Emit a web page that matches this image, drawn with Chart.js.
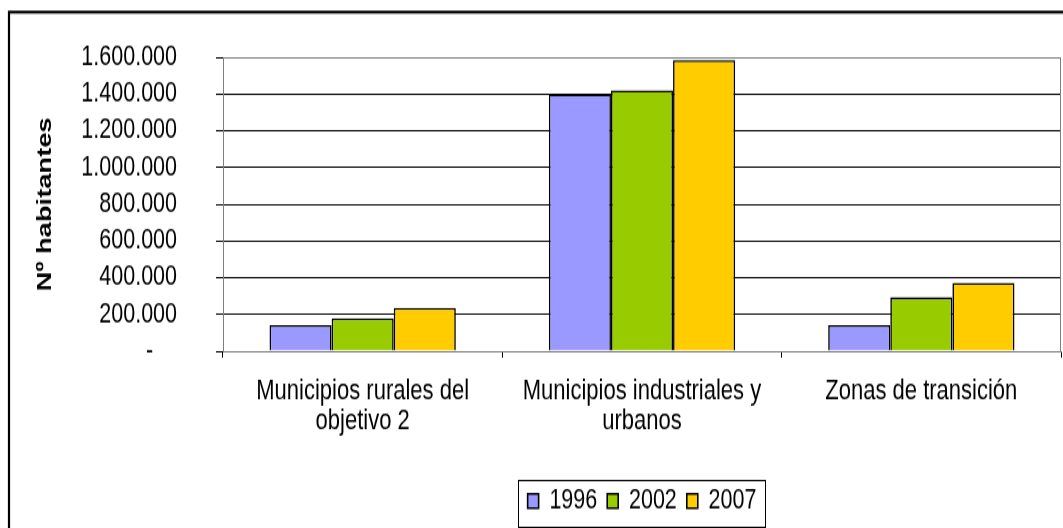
<!DOCTYPE html>
<html><head><meta charset="utf-8">
<script src="https://cdn.jsdelivr.net/npm/chart.js@4.4.1/dist/chart.umd.min.js"></script>
<style>
html,body{margin:0;padding:0;background:#fff;overflow:hidden;width:1063px;height:528px}
#wrap{position:absolute;left:0;top:0;width:1063px;height:406px;transform:scale(1,1.3005);transform-origin:0 0}
</style></head><body>
<div id="wrap"><canvas id="c" width="1063" height="406"></canvas></div>
<script>
const categories = [['Municipios rurales del', 'objetivo 2'], ['Municipios industriales y', 'urbanos'], 'Zonas de transición'];
const seriesNames = ['1996', '2002', '2007'];
const values1996 = [143000, 1399000, 143000];
const values2002 = [180000, 1420000, 294000];
const values2007 = [236000, 1584000, 373000];
const seriesColors = ['#9999FF', '#99CC00', '#FFCC00'];
const yTickValues = [0, 200000, 400000, 600000, 800000, 1000000, 1200000, 1400000, 1600000];
const yTickLabels = ['-    ', '200.000', '400.000', '600.000', '800.000', '1.000.000', '1.200.000', '1.400.000', '1.600.000'];
const yTitle = 'Nº habitantes';

const FF = "'Liberation Sans', Arial, sans-serif";
Chart.defaults.color = '#000';
Chart.defaults.font.family = FF;

const framePlugin = {
  id: 'frame',
  beforeDraw(chart) {
    const c = chart.ctx;
    c.save();
    c.fillStyle = '#fff';
    c.fillRect(0, 0, chart.width, chart.height);
    c.strokeStyle = '#000';
    c.lineWidth = 2.2;
    c.strokeRect(9, 9.3, 1200, 600);
    c.restore();
  },
  afterLayout(chart) {
    const lg = chart.legend;
    if (lg) { lg.left = chart.chartArea.left; lg.right = chart.chartArea.right; }
  },
  beforeDatasetsDraw(chart) {
    const a = chart.chartArea, c = chart.ctx;
    c.save();
    c.strokeStyle = '#808080';
    c.lineWidth = 1;
    c.beginPath();
    c.moveTo(a.left, a.top + 0.5);
    c.lineTo(a.right - 0.5, a.top + 0.5);
    c.lineTo(a.right - 0.5, a.bottom);
    c.stroke();
    c.restore();
  },
  afterDraw(chart) {
    const lg = chart.legend;
    if (!lg || !lg.legendHitBoxes || !lg.legendHitBoxes.length) return;
    const hb = lg.legendHitBoxes;
    let l = Infinity, r = -Infinity;
    hb.forEach(h => { l = Math.min(l, h.left); r = Math.max(r, h.left + h.width); });
    const cy = hb[0].top + hb[0].height / 2;
    const c = chart.ctx;
    c.save();
    c.strokeStyle = '#000';
    c.lineWidth = 1;
    c.strokeRect(Math.round(l - 10) + 0.5, Math.round(cy - 16.5) + 0.5, Math.round(r - l + 18), chart.height - Math.round(cy - 16.5) - 1);
    c.restore();
  }
};

new Chart(document.getElementById('c'), {
  type: 'bar',
  data: {
    labels: categories,
    datasets: [
      { label: seriesNames[0], data: values1996, backgroundColor: seriesColors[0] },
      { label: seriesNames[1], data: values2002, backgroundColor: seriesColors[1] },
      { label: seriesNames[2], data: values2007, backgroundColor: seriesColors[2] }
    ].map(d => Object.assign(d, { borderColor: '#000', borderWidth: 1.6, categoryPercentage: 0.667, barPercentage: 1.0 }))
  },
  options: {
    responsive: false,
    animation: false,
    devicePixelRatio: 1,
    layout: { padding: { left: 0, right: 2, top: 44, bottom: 0 } },
    plugins: {
      legend: {
        position: 'bottom',
        labels: { font: { family: FF, size: 21.5 }, color: '#000', boxWidth: 11, boxHeight: 11, padding: 10 }
      },
      tooltip: { enabled: false }
    },
    scales: {
      x: {
        grid: { offset: true, drawOnChartArea: false, drawTicks: true, tickLength: 5, tickColor: '#000' },
        border: { color: '#808080' },
        ticks: { font: { family: FF, size: 22, lineHeight: 1.05 }, color: '#000', padding: 14.5, maxRotation: 0, minRotation: 0, autoSkip: false },
        afterFit: s => { s.height = 94.4; }
      },
      y: {
        min: 0, max: 1600000,
        ticks: {
          stepSize: 200000, padding: 39, color: '#000', autoSkip: false,
          font: { family: FF, size: 21.5 },
          callback: v => { const i = yTickValues.indexOf(v); return i >= 0 ? yTickLabels[i] : ''; }
        },
        grid: {
          color: ctx => (ctx.tick && (ctx.tick.value === 1600000 || ctx.tick.value === 0)) ? '#808080' : '#000',
          tickColor: '#000', tickLength: 7
        },
        border: { color: '#808080' },
        title: { display: true, text: yTitle, color: '#000', font: { family: FF, size: 21, weight: 'bold' }, padding: { top: 33, bottom: 0 } },
        afterFit: s => { s.width = 223; s.paddingTop = 13; s.paddingBottom = 13; }
      }
    }
  },
  plugins: [framePlugin]
});
</script>
</body></html>
